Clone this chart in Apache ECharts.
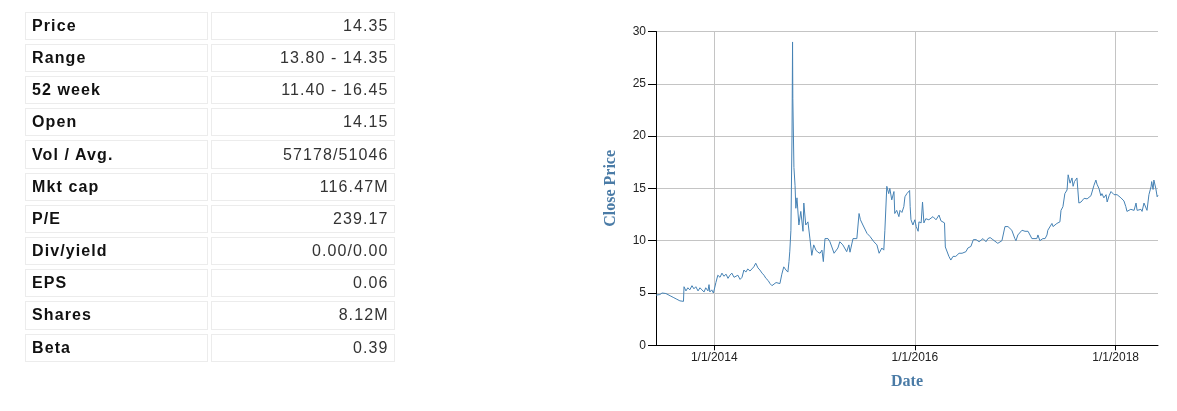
<!DOCTYPE html>
<html><head><meta charset="utf-8">
<script src="https://cdn.jsdelivr.net/npm/echarts@6/dist/echarts.min.js"></script>
<style>
html,body{margin:0;padding:0;background:#fff;width:1177px;height:411px;overflow:hidden;}
#chart{position:absolute;left:0;top:0;width:1177px;height:411px;}
#stats{position:absolute;left:22px;top:7.7px;border-collapse:separate;border-spacing:3.4px 4px;font-family:"Liberation Sans",Arial,sans-serif;font-size:16px;letter-spacing:1.1px;z-index:2;}
#stats td{box-sizing:border-box;border:1px solid #ececec;height:28.2px;padding:0 5px 0 6px;vertical-align:middle;white-space:nowrap;}
#stats td.k{width:183.3px;font-weight:bold;color:#111;}
#stats td.v{width:183.3px;text-align:right;color:#333;}
</style>
</head><body>
<table id="stats"></table>
<div id="chart"></div>
<script>
const statLabels = ['Price','Range','52 week','Open','Vol / Avg.','Mkt cap','P/E','Div/yield','EPS','Shares','Beta'];
const statValues = ['14.35','13.80 - 14.35','11.40 - 16.45','14.15','57178/51046','116.47M','239.17','0.00/0.00','0.06','8.12M','0.39'];

const dates = [
'2013-06-03','2013-06-10','2013-06-17','2013-06-25','2013-07-01','2013-07-09','2013-07-16','2013-07-27',
'2013-08-07','2013-08-18','2013-08-29','2013-09-05','2013-09-11','2013-09-13','2013-09-20','2013-09-27',
'2013-10-04','2013-10-12','2013-10-19','2013-10-26','2013-11-03','2013-11-10','2013-11-17','2013-11-25',
'2013-12-01','2013-12-09','2013-12-13','2013-12-16','2013-12-23','2013-12-29',
'2014-01-03','2014-01-07','2014-01-14','2014-01-22','2014-01-29','2014-02-05','2014-02-13','2014-02-20','2014-02-27',
'2014-03-06','2014-03-14','2014-03-21','2014-03-28','2014-04-05','2014-04-12','2014-04-19','2014-04-26',
'2014-05-03','2014-05-11','2014-05-18','2014-05-25','2014-06-01','2014-06-09','2014-06-16','2014-06-24',
'2014-07-01','2014-07-08','2014-07-16','2014-07-23','2014-07-30','2014-08-06','2014-08-14','2014-08-21','2014-08-28',
'2014-09-04','2014-09-11','2014-09-19','2014-09-26','2014-09-30','2014-10-03','2014-10-07','2014-10-11','2014-10-13',
'2014-10-14','2014-10-18','2014-10-22','2014-10-25','2014-10-29','2014-11-05','2014-11-12','2014-11-20','2014-11-23',
'2014-11-30','2014-12-08','2014-12-15','2014-12-22','2014-12-29',
'2015-01-06','2015-01-13','2015-01-21','2015-01-28','2015-02-02','2015-02-08','2015-02-19','2015-02-26',
'2015-03-05','2015-03-13','2015-03-27','2015-04-03','2015-04-14','2015-04-28','2015-05-06','2015-05-10','2015-05-21',
'2015-06-04','2015-06-12','2015-06-17','2015-06-26','2015-07-11','2015-07-22','2015-08-05','2015-08-16','2015-08-24',
'2015-09-03','2015-09-10','2015-09-14','2015-09-21','2015-09-28','2015-10-02','2015-10-09','2015-10-17','2015-10-20',
'2015-10-27','2015-11-04','2015-11-08','2015-11-15','2015-11-22','2015-11-26','2015-12-03','2015-12-13','2015-12-15',
'2015-12-18','2015-12-25',
'2016-01-01','2016-01-06','2016-01-13','2016-01-16','2016-01-24','2016-01-29','2016-02-03','2016-02-10','2016-02-21',
'2016-03-07','2016-03-18','2016-03-29','2016-04-05','2016-04-12','2016-04-18','2016-04-21','2016-04-27',
'2016-05-04','2016-05-11','2016-05-19','2016-05-29','2016-06-10','2016-06-21','2016-07-05','2016-07-12','2016-07-23',
'2016-08-01','2016-08-11','2016-08-22','2016-09-05','2016-09-16','2016-09-23','2016-10-01','2016-10-11','2016-10-29',
'2016-11-13','2016-11-24','2016-12-05','2016-12-19','2016-12-30',
'2017-01-03','2017-01-10','2017-01-25','2017-02-05','2017-02-16','2017-03-02','2017-03-06','2017-03-20','2017-03-24',
'2017-03-31','2017-04-11','2017-04-19','2017-04-26','2017-04-29','2017-05-14','2017-05-18','2017-05-25',
'2017-06-01','2017-06-05','2017-06-12','2017-06-16','2017-06-23','2017-06-30','2017-07-08','2017-07-12','2017-07-19',
'2017-07-26','2017-07-30','2017-08-04','2017-08-13','2017-08-20','2017-08-28','2017-09-01','2017-09-08','2017-09-19',
'2017-10-03','2017-10-14','2017-10-21','2017-10-25','2017-11-01','2017-11-08','2017-11-12','2017-11-19','2017-11-27',
'2017-12-01','2017-12-08','2017-12-15','2017-12-26',
'2018-01-06','2018-01-20','2018-01-24','2018-01-31','2018-02-07','2018-02-11','2018-02-25','2018-03-09','2018-03-16',
'2018-03-20','2018-04-03','2018-04-07','2018-04-14','2018-04-21','2018-04-25','2018-05-02','2018-05-10','2018-05-12',
'2018-05-17','2018-05-20','2018-05-27','2018-06-01','2018-06-04'
];
const closes = [
4.8,4.95,4.85,5.0,4.9,4.95,4.85,4.7,
4.55,4.4,4.25,4.15,4.2,5.6,5.2,5.5,
5.3,5.7,5.4,5.6,5.2,5.5,5.3,5.1,
5.5,5.2,5.8,5.1,5.3,5.0,
5.0,6.0,6.7,6.5,6.9,6.6,6.8,6.4,6.7,
6.9,6.5,6.4,6.7,6.3,6.5,7.2,7.0,
7.3,7.1,7.3,7.5,7.85,7.4,7.2,6.9,
6.7,6.4,6.2,5.9,5.7,5.8,6.0,6.1,5.9,
6.8,7.5,7.2,7.0,8.0,9.0,11.0,20.0,29.0,
23.6,17.0,15.3,13.1,14.1,11.5,12.8,10.9,13.6,
11.5,11.8,10.25,8.6,9.6,
9.1,8.9,8.8,9.1,8.0,10.2,10.2,9.9,
9.4,8.8,9.3,9.9,9.6,8.95,9.6,8.9,10.2,
10.2,12.6,12.0,11.5,10.7,10.4,9.9,9.6,8.8,
9.3,9.1,11.0,15.2,14.5,15.0,13.9,14.7,12.6,
12.9,12.3,12.9,12.7,13.25,14.2,14.5,14.8,13.25,
12.0,11.5,
12.0,11.35,10.9,11.8,11.7,13.7,11.7,12.1,12.0,
12.3,12.0,12.45,11.9,12.0,11.7,9.4,9.3,
8.5,8.15,8.5,8.5,8.8,8.8,8.95,9.3,9.45,
10.1,10.1,9.9,10.2,9.9,10.2,10.3,10.1,9.75,
10.0,11.35,11.35,11.0,10.2,
10.0,10.55,11.0,10.9,10.9,10.2,10.05,10.2,10.55,
10.0,10.2,10.2,10.55,11.0,11.65,11.35,11.5,
11.65,11.5,11.8,12.9,13.25,14.5,14.85,16.3,15.5,
16.0,15.2,15.65,16.0,13.6,13.7,13.6,14.05,14.0,
14.3,15.3,15.8,15.4,15.0,14.3,14.5,14.1,14.4,
13.7,14.3,14.7,14.4,
14.4,14.1,14.2,13.8,13.25,12.8,13.0,12.9,13.6,
12.9,13.0,12.8,13.6,13.7,12.9,14.4,15.2,15.65,
14.9,15.8,15.0,14.2,14.35
];
const xTickDates = ['2014-01-01','2016-01-01','2018-01-01'];
const xRange = ['2013-06-03','2018-06-04'];

// table
const tbl = document.getElementById('stats');
statLabels.forEach((k,i)=>{
  const tr = document.createElement('tr');
  const a = document.createElement('td'); a.className='k'; a.textContent=k;
  const b = document.createElement('td'); b.className='v'; b.textContent=statValues[i];
  tr.appendChild(a); tr.appendChild(b); tbl.appendChild(tr);
});

function ts(s){ const p=s.split('-').map(Number); return new Date(p[0],p[1]-1,p[2]).getTime(); }
const xTicks = xTickDates.map(ts);

const chart = echarts.init(document.getElementById('chart'));
chart.setOption({
  animation:false,
  grid:{left:656,right:19,top:31.5,bottom:65.7},
  xAxis:{
    type:'value', min:ts(xRange[0]), max:ts(xRange[1]),
    name:'Date', nameLocation:'middle', nameGap:29,
    nameTextStyle:{fontFamily:'"Liberation Serif","Times New Roman",serif',fontWeight:'bold',fontSize:16,color:'#4a7ba6'},
    axisLine:{show:true,lineStyle:{color:'#000',width:1}},
    axisTick:{show:true,customValues:xTicks,length:5,lineStyle:{color:'#000'}},
    axisLabel:{customValues:xTicks,color:'#222',fontSize:12,fontFamily:'"Liberation Sans",Arial,sans-serif',margin:6,
      formatter:function(v){const d=new Date(v);return (d.getMonth()+1)+'/'+d.getDate()+'/'+d.getFullYear();}},
    splitLine:{show:true,lineStyle:{color:'#c4c4c4',width:1}}
  },
  yAxis:{
    type:'value', min:0, max:30, interval:5,
    name:'Close Price', nameLocation:'middle', nameGap:37, nameRotate:90,
    nameTextStyle:{fontFamily:'"Liberation Serif","Times New Roman",serif',fontWeight:'bold',fontSize:16,color:'#4a7ba6'},
    axisLine:{show:true,lineStyle:{color:'#000',width:1}},
    axisTick:{show:true,length:8,lineStyle:{color:'#000'}},
    axisLabel:{color:'#222',fontSize:12,fontFamily:'"Liberation Sans",Arial,sans-serif',margin:10},
    splitLine:{show:true,lineStyle:{color:'#c4c4c4',width:1}}
  },
  series:[{
    type:'line', symbol:'none', showSymbol:false,
    data: dates.map((d,i)=>[ts(d), closes[i]]),
    lineStyle:{color:'#4682b4',width:1},
    itemStyle:{color:'#4682b4'}
  }]
});
</script>
</body></html>
